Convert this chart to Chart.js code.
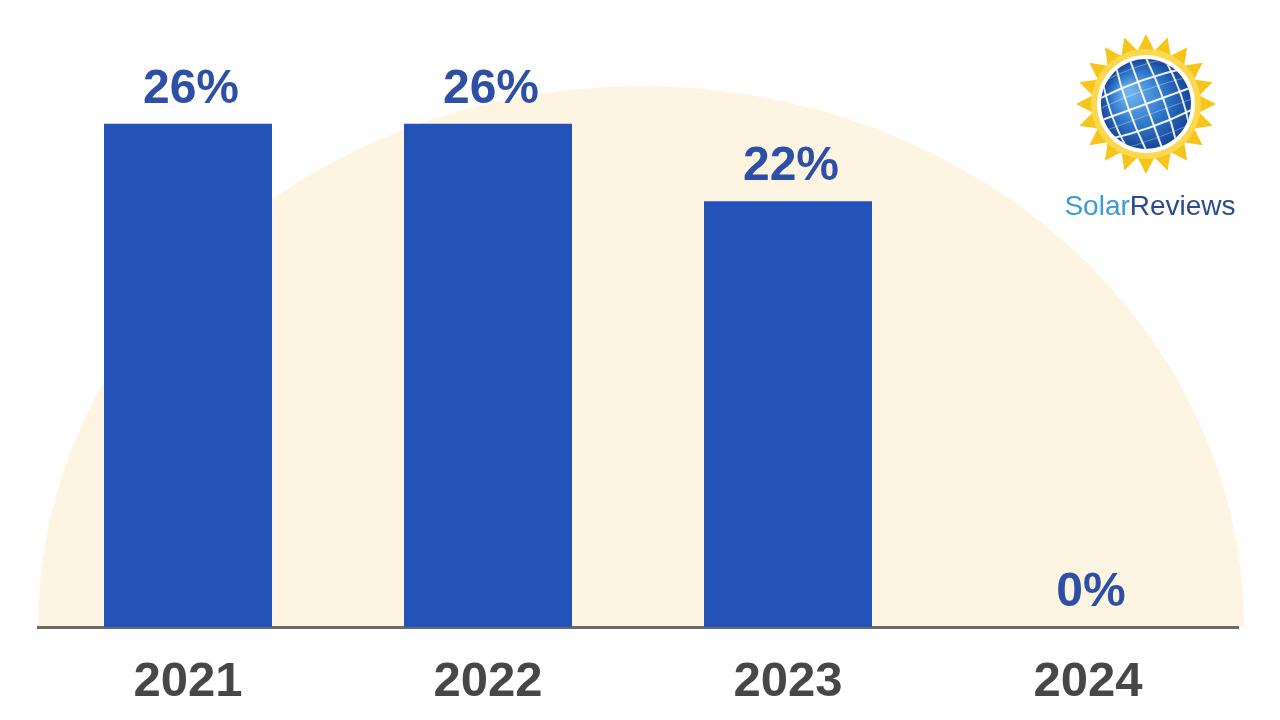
<!DOCTYPE html>
<html>
<head>
<meta charset="utf-8">
<script src="https://cdn.jsdelivr.net/npm/chart.js@4.4.1/dist/chart.umd.min.js"></script>
<style>
    html, body { margin: 0; padding: 0; background: #ffffff; }
    #wrap { width: 1280px; height: 720px; }
</style>
</head>
<body>
<div id="wrap"><canvas id="credit_chart" width="1280" height="720"></canvas></div>
<script>
const years = ['2021', '2022', '2023', '2024'];
const credit_values = [26, 26, 22, 0];

const bar_color = '#2352b8';
const label_color = '#2d50a6';

// cream half ellipse behind the bars
const backdrop = {
    id: 'backdrop',
    beforeDraw(chart) {
        const { ctx, chartArea } = chart;
        const cx = (chartArea.left + chartArea.right) / 2 + 3;
        ctx.save();
        ctx.fillStyle = '#fdf5e2';
        ctx.beginPath();
        ctx.ellipse(cx, chartArea.bottom, 603, 541, 0, Math.PI, 2 * Math.PI);
        ctx.closePath();
        ctx.fill();
        ctx.restore();
    }
};

// percent labels above each bar
const value_labels = {
    id: 'value_labels',
    afterDatasetsDraw(chart) {
        const { ctx } = chart;
        const meta = chart.getDatasetMeta(0);
        ctx.save();
        ctx.fillStyle = label_color;
        ctx.font = 'bold 48px "Liberation Sans", Arial, sans-serif';
        ctx.textAlign = 'center';
        ctx.textBaseline = 'alphabetic';
        meta.data.forEach((bar, i) => {
            ctx.fillText(credit_values[i] + '%', bar.x + 3, bar.y - 21);
        });
        ctx.restore();
    }
};

// SolarReviews logo in the top right corner
const logo = {
    id: 'logo',
    afterDraw(chart) {
        const ctx = chart.ctx;
        const cx = 1146, cy = 104;
        const gr = 45;
        ctx.save();

        // sun rays
        const rays = 20;
        ctx.fillStyle = '#f7c41a';
        ctx.beginPath();
        for (let i = 0; i < rays * 2; i++) {
            const a = i * Math.PI / rays - Math.PI / 2;
            const r = i % 2 === 0 ? 70 : 54;
            const px = cx + r * Math.cos(a);
            const py = cy + r * Math.sin(a);
            if (i === 0) ctx.moveTo(px, py); else ctx.lineTo(px, py);
        }
        ctx.closePath();
        ctx.fill();

        ctx.fillStyle = '#fcd84c';
        ctx.beginPath();
        ctx.arc(cx, cy, 55, 0, 2 * Math.PI);
        ctx.fill();

        ctx.fillStyle = '#ffffff';
        ctx.beginPath();
        ctx.arc(cx, cy, gr + 4, 0, 2 * Math.PI);
        ctx.fill();

        // solar panel globe
        const grad = ctx.createRadialGradient(cx - 18, cy - 12, 4, cx, cy, gr);
        grad.addColorStop(0, '#6fb2ee');
        grad.addColorStop(0.55, '#2f78cc');
        grad.addColorStop(1, '#18469a');
        ctx.fillStyle = grad;
        ctx.beginPath();
        ctx.arc(cx, cy, gr, 0, 2 * Math.PI);
        ctx.fill();

        ctx.save();
        ctx.beginPath();
        ctx.arc(cx, cy, gr, 0, 2 * Math.PI);
        ctx.clip();
        ctx.translate(cx, cy);
        ctx.rotate(-0.35);
        ctx.strokeStyle = 'rgba(255,255,255,0.9)';
        ctx.lineWidth = 2;
        for (let k = -3; k <= 3; k++) {
            ctx.beginPath();
            ctx.moveTo(k * 17 - k * 2, -50);
            ctx.quadraticCurveTo(k * 17 + k * 4, 0, k * 17 - k * 2, 50);
            ctx.stroke();
            ctx.beginPath();
            ctx.moveTo(-50, k * 22 - k * 2);
            ctx.quadraticCurveTo(0, k * 22 + k * 5, 50, k * 22 - k * 2);
            ctx.stroke();
        }
        ctx.strokeStyle = 'rgba(255,255,255,0.35)';
        ctx.lineWidth = 1;
        for (let k = -3; k <= 3; k++) {
            ctx.beginPath();
            ctx.moveTo(-50, k * 22 + 11);
            ctx.quadraticCurveTo(0, k * 22 + 11 + k * 5, 50, k * 22 + 11);
            ctx.stroke();
        }
        ctx.restore();

        // brand text
        ctx.font = '28px "Liberation Sans", Arial, sans-serif';
        ctx.textBaseline = 'alphabetic';
        ctx.textAlign = 'left';
        const solar_w = ctx.measureText('Solar').width;
        const total_w = ctx.measureText('SolarReviews').width;
        const tx = 1150 - total_w / 2;
        ctx.fillStyle = '#3d9ad6';
        ctx.fillText('Solar', tx, 215);
        ctx.fillStyle = '#2c4a8e';
        ctx.fillText('Reviews', tx + solar_w, 215);
        ctx.restore();
    }
};

const credit_chart = new Chart(document.getElementById('credit_chart'), {
    type: 'bar',
    data: {
        labels: years,
        datasets: [{
            label: 'Tax credit',
            data: credit_values,
            backgroundColor: bar_color,
            borderWidth: 0,
            barPercentage: 0.56,
            categoryPercentage: 1.0
        }]
    },
    options: {
        responsive: false,
        animation: false,
        devicePixelRatio: 1,
        layout: {
            padding: { left: 38, right: 42, top: 27, bottom: -17 }
        },
        scales: {
            x: {
                grid: { display: false, drawTicks: false },
                border: { display: true, color: '#6a6a6a', width: 3 },
                ticks: {
                    color: '#474747',
                    padding: 42,
                    font: { family: '"Liberation Sans", Arial, sans-serif', size: 49, weight: 'bold', lineHeight: 0.53 }
                }
            },
            y: {
                display: false,
                min: 0,
                max: 31
            }
        },
        plugins: {
            legend: { display: false },
            tooltip: { enabled: false }
        }
    },
    plugins: [backdrop, value_labels, logo]
});
</script>
</body>
</html>
